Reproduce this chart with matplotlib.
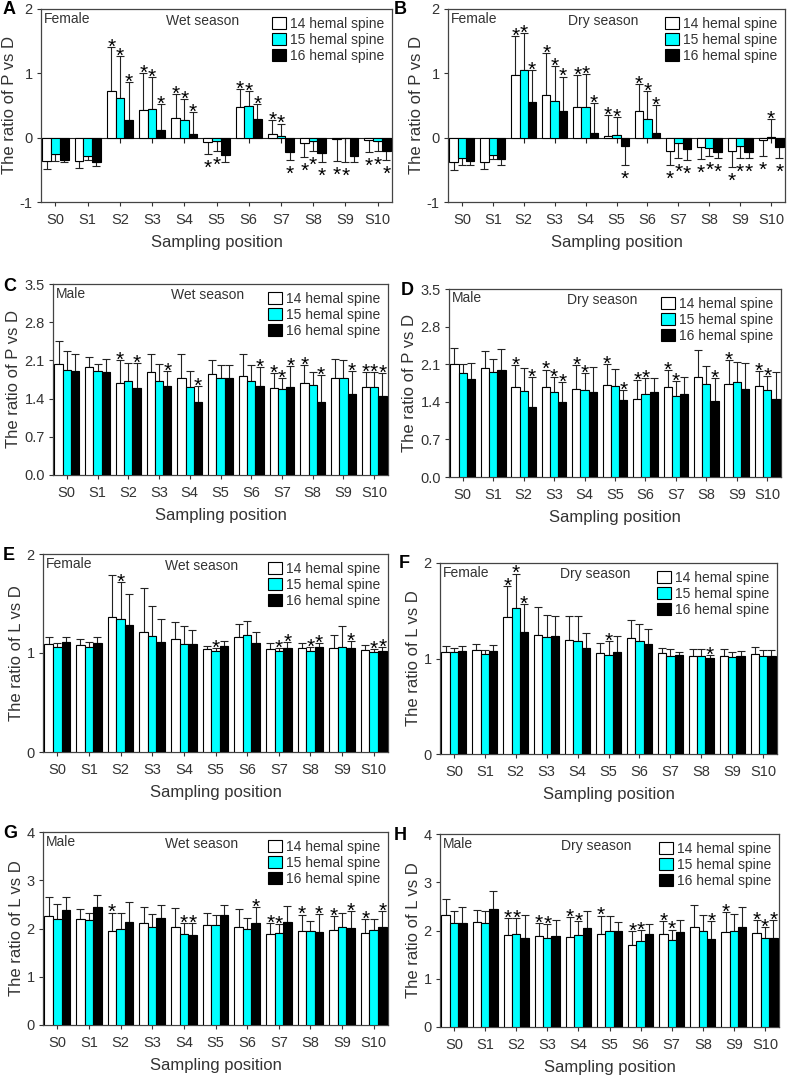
import numpy as np
import matplotlib
matplotlib.use("Agg")
import matplotlib.pyplot as plt
from matplotlib.patches import Patch

plt.rcParams['font.family'] = ['Liberation Sans', 'DejaVu Sans']

positions = ['S0', 'S1', 'S2', 'S3', 'S4', 'S5', 'S6', 'S7', 'S8', 'S9', 'S10']
groups = ['14 hemal spine', '15 hemal spine', '16 hemal spine']

# A: female, wet season, P vs D
a_mean = [[-0.36, -0.36, 0.73, 0.43, 0.31, -0.06, 0.48, 0.05, -0.08, -0.02, -0.03],
          [-0.25, -0.29, 0.62, 0.45, 0.27, -0.05, 0.50, 0.02, -0.05, -0.01, -0.05],
          [-0.35, -0.38, 0.28, 0.12, 0.05, -0.27, 0.29, -0.22, -0.24, -0.28, -0.21]]
a_sd = [[0.12, 0.11, 0.68, 0.58, 0.37, 0.19, 0.28, 0.22, 0.22, 0.34, 0.19],
        [0.12, 0.06, 0.65, 0.49, 0.33, 0.16, 0.23, 0.20, 0.15, 0.37, 0.16],
        [0.03, 0.06, 0.59, 0.40, 0.35, 0.11, 0.23, 0.12, 0.14, 0.10, 0.14]]
a_star = [[0, 0, 1, 1, 1, 1, 1, 1, 1, 1, 1],
          [0, 0, 1, 1, 1, 1, 1, 1, 1, 1, 1],
          [0, 0, 1, 1, 1, 0, 1, 1, 1, 0, 1]]

# B: female, dry season, P vs D
b_mean = [[-0.38, -0.38, 0.98, 0.66, 0.47, 0.02, 0.41, -0.20, -0.15, -0.21, -0.03],
          [-0.32, -0.27, 1.05, 0.57, 0.47, 0.04, 0.29, -0.08, -0.16, -0.13, 0.01],
          [-0.36, -0.33, 0.56, 0.42, 0.08, -0.13, 0.07, -0.18, -0.22, -0.22, -0.15]]
b_sd = [[0.13, 0.11, 0.60, 0.65, 0.50, 0.33, 0.43, 0.22, 0.18, 0.24, 0.25],
        [0.11, 0.06, 0.58, 0.55, 0.52, 0.28, 0.44, 0.24, 0.12, 0.19, 0.28],
        [0.07, 0.09, 0.49, 0.53, 0.46, 0.30, 0.44, 0.17, 0.09, 0.09, 0.16]]
b_star = [[0, 0, 1, 1, 1, 1, 1, 1, 1, 1, 1],
          [0, 0, 1, 1, 1, 1, 1, 1, 1, 1, 1],
          [0, 0, 1, 1, 1, 1, 1, 1, 1, 1, 1]]

# C: male, wet season, P vs D
c_mean = [[2.03, 1.97, 1.69, 1.88, 1.78, 1.85, 1.82, 1.59, 1.68, 1.77, 1.62],
          [1.93, 1.91, 1.72, 1.73, 1.61, 1.78, 1.73, 1.58, 1.65, 1.77, 1.61],
          [1.90, 1.89, 1.59, 1.64, 1.34, 1.78, 1.63, 1.61, 1.34, 1.48, 1.45]]
c_sd = [[0.42, 0.20, 0.42, 0.34, 0.44, 0.25, 0.40, 0.27, 0.34, 0.36, 0.27],
        [0.34, 0.13, 0.34, 0.30, 0.30, 0.24, 0.28, 0.19, 0.24, 0.33, 0.27],
        [0.31, 0.24, 0.46, 0.26, 0.29, 0.24, 0.35, 0.38, 0.49, 0.42, 0.42]]
c_star = [[0, 0, 1, 0, 0, 0, 0, 1, 1, 0, 1],
          [0, 0, 0, 0, 0, 0, 0, 1, 0, 0, 1],
          [0, 0, 1, 1, 1, 0, 1, 1, 1, 1, 1]]

# D: male, dry season, P vs D
d_mean = [[2.10, 2.03, 1.67, 1.67, 1.64, 1.72, 1.45, 1.67, 1.86, 1.74, 1.69],
          [1.93, 1.95, 1.61, 1.58, 1.62, 1.70, 1.55, 1.51, 1.74, 1.76, 1.62],
          [1.82, 1.99, 1.30, 1.40, 1.58, 1.43, 1.59, 1.54, 1.41, 1.64, 1.46]]
d_sd = [[0.30, 0.32, 0.41, 0.33, 0.44, 0.39, 0.36, 0.32, 0.50, 0.44, 0.29],
        [0.18, 0.25, 0.41, 0.28, 0.31, 0.31, 0.29, 0.27, 0.32, 0.38, 0.26],
        [0.30, 0.40, 0.56, 0.36, 0.47, 0.19, 0.25, 0.33, 0.43, 0.48, 0.49]]
d_star = [[0, 0, 1, 1, 1, 1, 1, 1, 0, 1, 1],
          [0, 0, 0, 1, 1, 0, 1, 1, 0, 0, 1],
          [0, 0, 1, 1, 0, 1, 0, 0, 1, 0, 0]]

# E: female, wet season, L vs D
e_mean = [[1.09, 1.08, 1.36, 1.21, 1.14, 1.04, 1.16, 1.04, 1.05, 1.05, 1.03],
          [1.06, 1.06, 1.34, 1.17, 1.09, 1.02, 1.18, 1.02, 1.02, 1.06, 1.01],
          [1.11, 1.10, 1.28, 1.11, 1.09, 1.07, 1.10, 1.05, 1.06, 1.05, 1.02]]
e_sd = [[0.07, 0.06, 0.43, 0.45, 0.17, 0.03, 0.13, 0.06, 0.05, 0.13, 0.05],
        [0.04, 0.05, 0.38, 0.30, 0.18, 0.03, 0.14, 0.03, 0.04, 0.21, 0.03],
        [0.05, 0.06, 0.32, 0.23, 0.14, 0.05, 0.11, 0.06, 0.04, 0.07, 0.04]]
e_star = [[0, 0, 0, 0, 0, 0, 0, 0, 0, 0, 0],
          [0, 0, 1, 0, 0, 1, 0, 1, 1, 0, 1],
          [0, 0, 0, 0, 0, 0, 0, 1, 1, 1, 1]]

# F: female, dry season, L vs D
f_mean = [[1.07, 1.09, 1.43, 1.25, 1.19, 1.06, 1.21, 1.06, 1.03, 1.03, 1.05],
          [1.07, 1.05, 1.53, 1.22, 1.18, 1.04, 1.18, 1.03, 1.03, 1.02, 1.03],
          [1.08, 1.08, 1.28, 1.24, 1.11, 1.07, 1.15, 1.04, 1.01, 1.03, 1.03]]
f_sd = [[0.06, 0.06, 0.33, 0.29, 0.25, 0.10, 0.19, 0.05, 0.07, 0.07, 0.07],
        [0.04, 0.04, 0.36, 0.24, 0.27, 0.14, 0.18, 0.07, 0.07, 0.05, 0.06],
        [0.05, 0.06, 0.29, 0.21, 0.16, 0.17, 0.16, 0.03, 0.03, 0.05, 0.06]]
f_star = [[0, 0, 1, 0, 0, 0, 0, 0, 0, 0, 0],
          [0, 0, 1, 0, 0, 1, 0, 0, 0, 0, 0],
          [0, 0, 1, 0, 0, 0, 0, 0, 1, 0, 0]]

# G: male, wet season, L vs D
g_mean = [[2.26, 2.19, 1.95, 2.11, 2.04, 2.08, 2.04, 1.89, 1.94, 1.96, 1.91],
          [2.19, 2.17, 2.00, 2.03, 1.89, 2.08, 1.99, 1.91, 1.94, 2.03, 1.96],
          [2.38, 2.45, 2.13, 2.22, 1.87, 2.27, 2.11, 2.13, 1.92, 2.01, 2.04]]
g_sd = [[0.39, 0.21, 0.38, 0.34, 0.39, 0.25, 0.37, 0.23, 0.35, 0.30, 0.29],
        [0.32, 0.15, 0.33, 0.27, 0.23, 0.20, 0.23, 0.19, 0.22, 0.30, 0.24],
        [0.27, 0.25, 0.41, 0.27, 0.24, 0.22, 0.34, 0.33, 0.38, 0.36, 0.33]]
g_star = [[0, 0, 1, 0, 0, 0, 0, 1, 1, 1, 1],
          [0, 0, 0, 0, 1, 0, 0, 1, 0, 0, 0],
          [0, 0, 0, 0, 1, 0, 1, 0, 1, 1, 1]]

# H: male, dry season, L vs D
h_mean = [[2.32, 2.18, 1.90, 1.88, 1.87, 1.93, 1.69, 1.93, 2.07, 1.97, 1.95],
          [2.15, 2.15, 1.93, 1.85, 1.91, 2.00, 1.78, 1.80, 2.00, 2.00, 1.85],
          [2.15, 2.45, 1.85, 1.88, 2.06, 1.98, 1.93, 1.97, 1.82, 2.08, 1.85]]
h_sd = [[0.33, 0.25, 0.35, 0.27, 0.41, 0.38, 0.29, 0.26, 0.45, 0.41, 0.27],
        [0.26, 0.25, 0.32, 0.29, 0.28, 0.30, 0.23, 0.22, 0.33, 0.34, 0.23],
        [0.33, 0.36, 0.47, 0.33, 0.35, 0.19, 0.21, 0.24, 0.38, 0.40, 0.37]]
h_star = [[0, 0, 1, 1, 1, 1, 1, 1, 0, 1, 1],
          [0, 0, 1, 1, 1, 0, 1, 1, 0, 0, 1],
          [0, 0, 0, 0, 0, 0, 0, 0, 1, 0, 1]]

W, H = 787, 1075
fig = plt.figure(figsize=(W / 100, H / 100), dpi=100)

colors = ['white', '#00FFFF', 'black']
txt = '#333333'

panels = [
    # letter, (left, top, right, bottom) px, letter pos px, sex, season, ylabel, yticks, data
    ('A', (41, 9, 392, 202), (3, 10), 'Female', 'Wet season', 'The ratio of P vs D',
     [-1, 0, 1, 2], ['-1', '0', '1', '2'], a_mean, a_sd, a_star),
    ('B', (448, 9, 785, 202), (394, 10), 'Female', 'Dry season', 'The ratio of P vs D',
     [-1, 0, 1, 2], ['-1', '0', '1', '2'], b_mean, b_sd, b_star),
    ('C', (53, 284, 388, 475), (3, 287), 'Male', 'Wet season', 'The ratio of P vs D',
     [0, 0.7, 1.4, 2.1, 2.8, 3.5], ['0.0', '0.7', '1.4', '2.1', '2.8', '3.5'], c_mean, c_sd, c_star),
    ('D', (449, 289, 781, 477), (401, 290), 'Male', 'Dry season', 'The ratio of P vs D',
     [0, 0.7, 1.4, 2.1, 2.8, 3.5], ['0.0', '0.7', '1.4', '2.1', '2.8', '3.5'], d_mean, d_sd, d_star),
    ('E', (43, 554, 388, 752), (3, 555), 'Female', 'Wet season', 'The ratio of L vs D',
     [0, 1, 2], ['0', '1', '2'], e_mean, e_sd, e_star),
    ('F', (440, 563, 777, 754), (399, 563), 'Female', 'Dry season', 'The ratio of L vs D',
     [0, 1, 2], ['0', '1', '2'], f_mean, f_sd, f_star),
    ('G', (43, 832, 388, 1025), (3, 833), 'Male', 'Wet season', 'The ratio of L vs D',
     [0, 1, 2, 3, 4], ['0', '1', '2', '3', '4'], g_mean, g_sd, g_star),
    ('H', (440, 834, 779, 1027), (394, 835), 'Male', 'Dry season', 'The ratio of L vs D',
     [0, 1, 2, 3, 4], ['0', '1', '2', '3', '4'], h_mean, h_sd, h_star),
]

x = np.arange(len(positions))
bw = 0.27

for letter, box, lpos, sex, season, ylab, yt, ytl, mean, sd, star in panels:
    l, t, r, b = box
    ax = fig.add_axes([l / W, 1 - b / H, (r - l) / W, (b - t) / H])
    ymin, ymax = yt[0], yt[-1]
    if ymin < 0:
        ax.axhline(0, color='#222222', lw=0.8, zorder=1)
        ax.vlines(x, -0.08, 0, color='#222222', lw=0.8, zorder=1)
    for k in range(3):
        m = np.array(mean[k])
        s = np.array(sd[k])
        xs = x + (k - 1) * bw
        ax.bar(xs, m, bw, color=colors[k], edgecolor='black', linewidth=0.8, zorder=3)
        lo = np.where(m < 0, s, 0)
        hi = np.where(m >= 0, s, 0)
        ax.errorbar(xs, m, yerr=[lo, hi], fmt='none', ecolor='#222222',
                    elinewidth=0.8, capsize=3, capthick=0.8, zorder=2)
        for i in range(len(m)):
            if star[k][i]:
                if m[i] >= 0:
                    ax.annotate('*', xy=(xs[i], m[i] + s[i]), xytext=(0, -7),
                                textcoords='offset points', ha='center', va='bottom',
                                fontsize=15, color='black', zorder=5)
                else:
                    ax.annotate('*', xy=(xs[i], m[i] - s[i]), xytext=(0, -3.5),
                                textcoords='offset points', ha='center', va='top',
                                fontsize=15, color='black', zorder=5)
    ax.set_xlim(-0.45, 10.45)
    ax.set_ylim(ymin, ymax)
    ax.set_yticks(yt)
    ax.set_yticklabels(ytl)
    ax.set_xticks(x)
    ax.set_xticklabels(positions)
    ax.tick_params(direction='out', length=3, width=0.8, labelsize=10.5, colors=txt,
                   top=False, right=False, pad=3)
    ax.tick_params(axis='x', pad=5)
    for sp in ax.spines.values():
        sp.set_color('#444444')
        sp.set_linewidth(0.9)
    ax.set_ylabel(ylab, fontsize=12, color=txt, labelpad=2)
    ax.set_xlabel('Sampling position', fontsize=12, color=txt, labelpad=6)
    ax.text(0.008, 0.95, sex, transform=ax.transAxes, ha='left', va='center',
            fontsize=10, color=txt)
    ax.text(0.46, 0.94, season, transform=ax.transAxes, ha='center', va='center',
            fontsize=10, color=txt)
    handles = [Patch(facecolor=c, edgecolor='black', linewidth=0.8) for c in colors]
    ax.legend(handles, groups, loc='upper right', frameon=False, fontsize=10,
              handlelength=1.0, handleheight=1.0, handletextpad=0.3,
              labelspacing=0.15, borderaxespad=0.15, labelcolor=txt)
    fig.text(lpos[0] / W, 1 - lpos[1] / H, letter, ha='left', va='center',
             fontsize=13, fontweight='bold', color='black')

fig.savefig('out.png', dpi=100)
